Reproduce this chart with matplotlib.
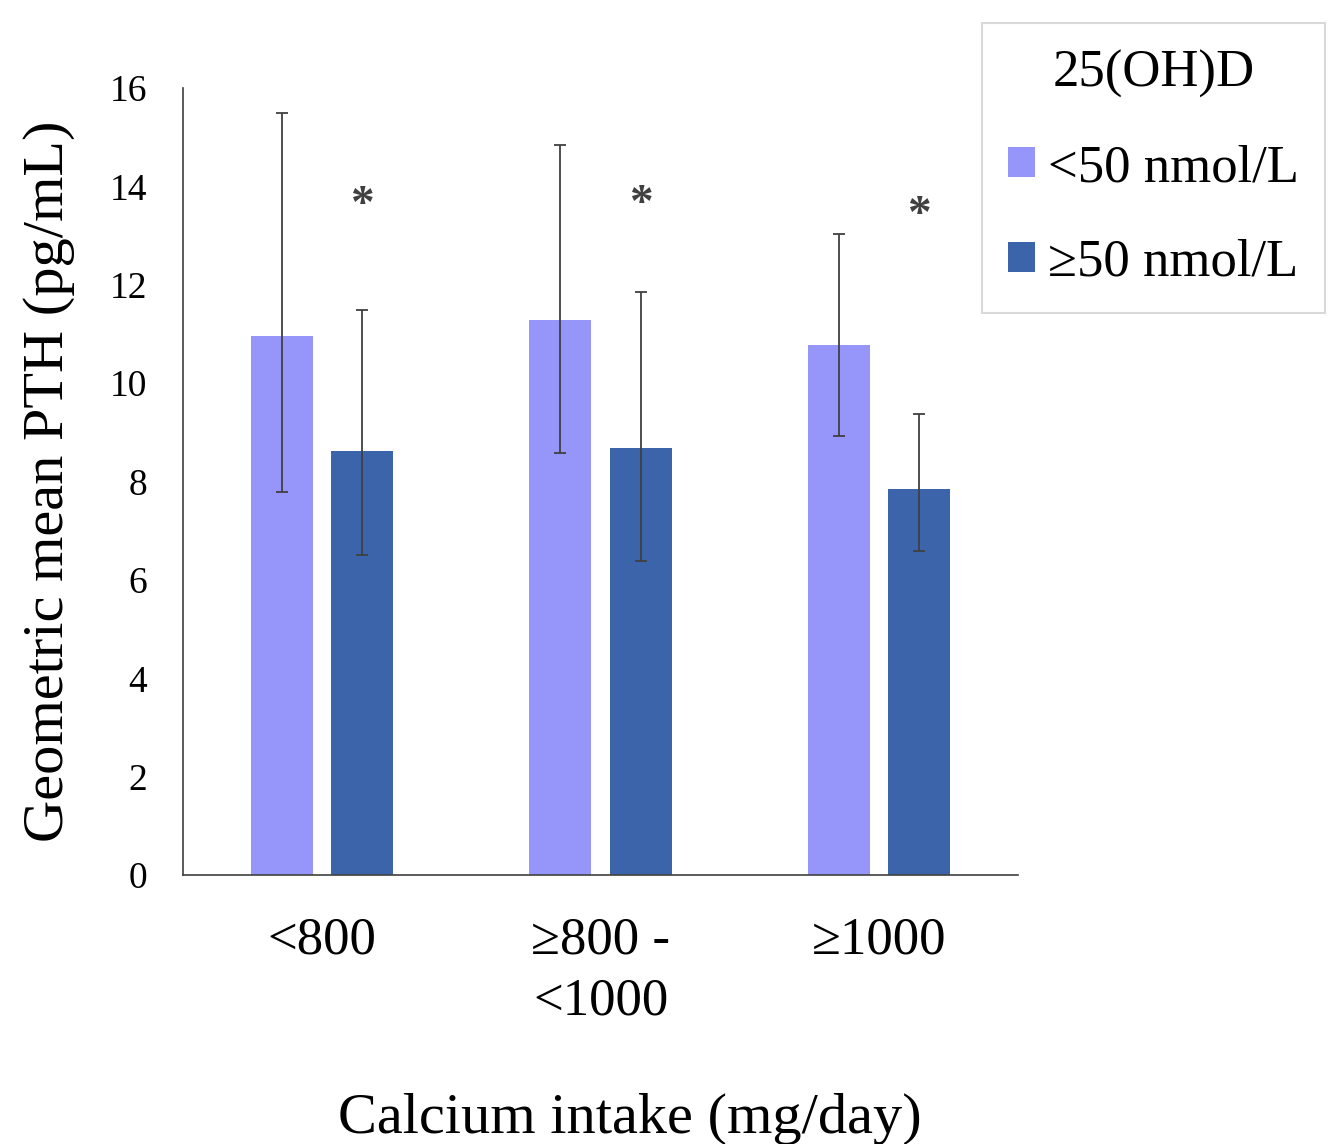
import matplotlib.pyplot as plt
import numpy as np

plt.rcParams['font.family'] = ['Liberation Serif', 'DejaVu Serif']

categories = ['<800', '≥800 -\n<1000', '≥1000']
series_labels = ['<50 nmol/L', '≥50 nmol/L']
low_vitd = [10.96, 11.28, 10.77]
low_vitd_lo = [7.79, 8.58, 8.92]
low_vitd_hi = [15.49, 14.84, 13.03]
high_vitd = [8.62, 8.68, 7.85]
high_vitd_lo = [6.51, 6.38, 6.59]
high_vitd_hi = [11.49, 11.85, 9.37]
star_y = [13.60, 13.62, 13.40]

colors = ['#9696FA', '#3C64AA']
err_color = '#404040'

fig = plt.figure(figsize=(13.28, 11.44), dpi=100)
ax = fig.add_axes([0.1378, 0.2351, 0.6288, 0.688])

x = np.arange(len(categories))
w = 0.223
off = 0.144

for vals, lo, hi, sign, c, lab in [
        (low_vitd, low_vitd_lo, low_vitd_hi, -1, colors[0], series_labels[0]),
        (high_vitd, high_vitd_lo, high_vitd_hi, 1, colors[1], series_labels[1])]:
    vals = np.array(vals)
    yerr = [vals - np.array(lo), np.array(hi) - vals]
    ax.bar(x + sign * off, vals, width=w, color=c, label=lab, zorder=2)
    ax.errorbar(x + sign * off, vals, yerr=yerr, fmt='none', ecolor=err_color,
                elinewidth=1.3, capsize=4.5, capthick=1.3, zorder=3)

for xi, sy in zip(x, star_y):
    ax.text(xi + off, sy, '*', ha='center', va='center', fontsize=34,
            fontweight='bold', color=err_color)

ax.set_xlim(-0.5, 2.5)
ax.set_ylim(0, 16)
ax.set_yticks(range(0, 17, 2))
ax.set_xticks(x)
ax.set_xticklabels(categories, fontsize=38, linespacing=1.35)
ax.tick_params(axis='y', length=0, pad=26, labelsize=27)
ax.tick_params(axis='x', length=0, pad=30)
for s in ['top', 'right']:
    ax.spines[s].set_visible(False)
for s in ['left', 'bottom']:
    ax.spines[s].set_color('#404040')
    ax.spines[s].set_linewidth(1.2)

ax.set_ylabel('Geometric mean PTH (pg/mL)', fontsize=42)
ax.yaxis.set_label_coords(-0.129, 0.5)
ax.set_xlabel('Calcium intake (mg/day)', fontsize=42)
ax.xaxis.set_label_coords(0.535, -0.277)

leg = fig.legend(title='25(OH)D', loc='upper left',
                 bbox_to_anchor=(982 / 1328, 1 - 23 / 1144),
                 fontsize=38, title_fontsize=38, frameon=True, fancybox=False,
                 handlelength=0.5, handleheight=0.5, handletextpad=0.25,
                 labelspacing=0.88, borderpad=0.5, borderaxespad=0)
leg.get_frame().set_edgecolor('#d0d0d0')
leg.get_frame().set_linewidth(1.5)

fig.savefig('out.png', dpi=100)
